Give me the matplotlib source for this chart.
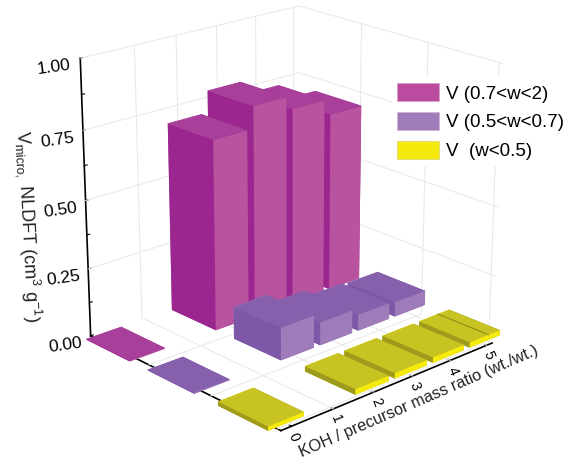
import matplotlib
matplotlib.use('Agg')
import matplotlib.pyplot as plt
from matplotlib.patches import Patch
from mpl_toolkits.mplot3d import Axes3D

plt.rcParams['font.family'] = ['Liberation Sans', 'DejaVu Sans']
plt.rcParams['mathtext.fontset'] = 'custom'
plt.rcParams['mathtext.rm'] = 'Liberation Sans'

# データ
koh_ratio = [0, 2.1, 3.1, 4.1, 5.1]
v_wide = [0.003, 0.70, 0.78, 0.73, 0.67]
v_mid = [0.003, 0.12, 0.085, 0.06, 0.055]
v_narrow = [0.015, 0.02, 0.02, 0.02, 0.02]
legend_labels = ['V (0.7<w<2)', 'V (0.5<w<0.7)', 'V  (w<0.5)']
z_major = [0.0, 0.25, 0.5, 0.75, 1.0]
z_minor = [0.125, 0.375, 0.625, 0.875]
y_ticks = [0, 1, 2, 3, 4, 5]
row_pos = [0.05, 1.1, 2.22]

# 色 (左面, 右面, 上面)
pink = ('#9b2690', '#ba539f', '#a83f9a')
purple = ('#7d58a8', '#9e7cba', '#8660ac')
yellow = ('#9e9b1c', '#f6ea0c', '#c7c322')

xmin, xmax = 0.0, 3.05
ymin, ymax = -0.25, 5.15

fig = plt.figure(figsize=(5.65, 4.72), dpi=100)
ax = fig.add_axes([0.003, 0.055, 1, 1], projection='3d', computed_zorder=False)
ax.set_proj_type('persp', focal_length=0.8)
ax.view_init(elev=20.5, azim=-42.5)
ax.set_box_aspect((1, 1, 1.02), zoom=1.045)
ax.set_xlim(xmin, xmax)
ax.set_ylim(ymin, ymax)
ax.set_zlim(0, 1)

# グリッド線
ax.grid(False)
grid_c = '#e8e8e8'
for z in z_major[1:]:
    ax.plot([xmin, xmin], [ymin, ymax], [z, z], color=grid_c, lw=0.7, zorder=1)
    ax.plot([xmin, xmax], [ymax, ymax], [z, z], color=grid_c, lw=0.7, zorder=1)
for y in y_ticks[1:]:
    ax.plot([xmin, xmin], [y, y], [0, 1], color=grid_c, lw=0.7, zorder=1)
    ax.plot([xmin, xmax], [y, y], [0, 0], color=grid_c, lw=0.7, zorder=1)
for x in [1, 2, 3]:
    ax.plot([x, x], [ymax, ymax], [0, 1], color=grid_c, lw=0.7, zorder=1)
    ax.plot([x, x], [ymin, ymax], [0, 0], color=grid_c, lw=0.7, zorder=1)

# 棒 (奥から順に描画)
dx, dy = 0.75, 0.84
order = 2
rows = [(row_pos[0], v_wide, pink), (row_pos[1], v_mid, purple), (row_pos[2], v_narrow, yellow)]
for x0, values, cols in rows:
    for y0, v in sorted(zip(koh_ratio, values), reverse=True):
        left, right, top = cols
        faces = [top, top, left, left, right, right]
        ax.bar3d(x0, y0 - dy / 2, 0, dx, dy, v, color=faces, shade=False,
                 edgecolor='none', zorder=order)
        order += 1

# 一番奥の黄色の棒の継ぎ目
ax.plot([row_pos[2], row_pos[2] + dx], [5.2, 5.2], [0.02, 0.02], color='#8f8c18', lw=0.8, zorder=order)

# 軸
for axis in (ax.xaxis, ax.yaxis, ax.zaxis):
    axis.set_pane_color((1, 1, 1, 0))
    axis.pane.set_edgecolor('#aaaaaa')
    axis.pane.set_linewidth(0.8)
    axis.line.set_color('black')
    axis.line.set_linewidth(1.2)
    axis._axinfo['tick']['inward_factor'] = 0.0
    axis._axinfo['tick']['outward_factor'] = 0.15

ax.set_xticks([])
ax.set_yticks(y_ticks)
ax.set_yticklabels([str(t) for t in y_ticks], fontsize=10, rotation=-68)
ax.tick_params(axis='y', pad=-6, colors='black')
ax.set_zticks(sorted(z_major + z_minor))
ax.set_zticklabels(['%.2f' % z if z in z_major else '' for z in sorted(z_major + z_minor)],
                   fontsize=12.5, rotation=8)
ax.zaxis.set_ticks_position('lower')
ax.tick_params(axis='z', pad=3)

# ラベル
fig.text(0.537, 0.025, 'KOH / precursor mass ratio (wt./wt.)', fontsize=11.7, rotation=23.5,
         ha='left', va='bottom', color='#222222', rotation_mode='anchor')
fig.text(0.05, 0.52, r'V$_{\mathrm{micro,}}$ NLDFT (cm$^{3}$ g$^{-1}$)', fontsize=13,
         rotation=-87, ha='center', va='center', color='#222222')

handles = [Patch(facecolor='#ba4b9e', edgecolor='#d9a0c8', lw=0.5),
           Patch(facecolor='#a07db9', edgecolor='#c9b5d8', lw=0.5),
           Patch(facecolor='#f6ea0c', edgecolor='#d8d070', lw=0.5)]
fig.legend(handles, legend_labels, loc='upper left', bbox_to_anchor=(0.693, 0.836),
           frameon=True, facecolor='white', edgecolor='none', framealpha=1, fontsize=13.5,
           handlelength=2.24, handleheight=1.12, labelspacing=0.5, handletextpad=0.37,
           borderpad=0.3, borderaxespad=0)

plt.savefig('out.png', dpi=100)
